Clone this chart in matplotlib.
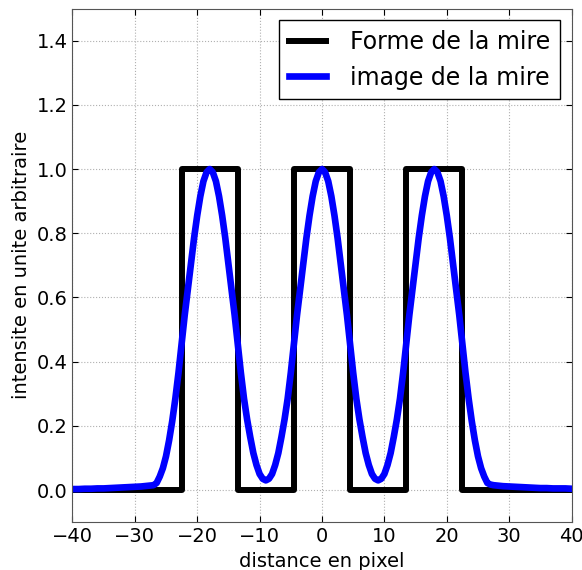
import matplotlib
matplotlib.use('Agg')
import matplotlib.pyplot as plt

# forme de la mire (créneaux)
mire_x = [-40, -22.5, -22.5, -13.5, -13.5, -4.5, -4.5, 4.5, 4.5, 13.5, 13.5, 22.5, 22.5, 40]
mire_y = [0, 0, 1, 1, 0, 0, 1, 1, 0, 0, 1, 1, 0, 0]

# image de la mire, valeurs lues sur la courbe
# pas de 1 dans les queues, pas de 0.5 entre -27.5 et 27.5
image_x = list(range(-40, -27)) + [i * 0.5 for i in range(-55, 56)] + list(range(28, 41))
image_y = [
    # -40 .. -28
    0.003, 0.003, 0.004, 0.004, 0.005, 0.005, 0.006, 0.007, 0.008, 0.009, 0.010, 0.011, 0.013,
    # -27.5 .. -18
    0.014, 0.015, 0.022, 0.042, 0.068, 0.105, 0.155, 0.215, 0.285, 0.365,
    0.455, 0.545, 0.625, 0.705, 0.785, 0.855, 0.915, 0.962, 0.99, 1.0,
    # -17.5 .. -9
    0.99, 0.962, 0.915, 0.855, 0.785, 0.705, 0.625, 0.545, 0.455,
    0.365, 0.285, 0.22, 0.165, 0.115, 0.078, 0.05, 0.035, 0.03,
    # -8.5 .. 0
    0.035, 0.05, 0.078, 0.115, 0.165, 0.22, 0.285, 0.365, 0.455,
    0.545, 0.625, 0.705, 0.785, 0.855, 0.915, 0.962, 0.99, 1.0,
    # 0.5 .. 9
    0.99, 0.962, 0.915, 0.855, 0.785, 0.705, 0.625, 0.545, 0.455,
    0.365, 0.285, 0.22, 0.165, 0.115, 0.078, 0.05, 0.035, 0.03,
    # 9.5 .. 18
    0.035, 0.05, 0.078, 0.115, 0.165, 0.22, 0.285, 0.365, 0.455,
    0.545, 0.625, 0.705, 0.785, 0.855, 0.915, 0.962, 0.99, 1.0,
    # 18.5 .. 27.5
    0.99, 0.962, 0.915, 0.855, 0.785, 0.705, 0.625, 0.545, 0.455, 0.365,
    0.285, 0.215, 0.155, 0.105, 0.068, 0.042, 0.022, 0.017, 0.015,
    # 28 .. 40
    0.014, 0.012, 0.011, 0.010, 0.009, 0.008, 0.007, 0.006, 0.006, 0.005, 0.005, 0.005, 0.004,
]

fig = plt.figure(figsize=(5.82, 5.70), dpi=100)
ax = fig.add_axes([0.1244, 0.084, 0.8577, 0.901])

ax.plot(mire_x, mire_y, color='black', linewidth=4.3, label='Forme de la mire')
ax.plot(image_x, image_y, color='blue', linewidth=4.8, label='image de la mire')

ax.set_xlim(-40, 40)
ax.set_ylim(-0.1, 1.5)
ax.set_yticks([0.0, 0.2, 0.4, 0.6, 0.8, 1.0, 1.2, 1.4])
ax.set_xlabel('distance en pixel', fontsize=14)
ax.set_ylabel('intensite en unite arbitraire', fontsize=14)
ax.tick_params(direction='in', top=True, right=True, labelsize=14, length=4)
ax.grid(True, color='#b0b0b0', linestyle=':', linewidth=0.8)
for s in ax.spines.values():
    s.set_color('#555555')

leg = ax.legend(loc='upper right', fontsize=17, fancybox=False, framealpha=1,
                edgecolor='black', handlelength=1.6, handletextpad=1.0,
                borderaxespad=0.5)
leg.get_frame().set_linewidth(1)

fig.savefig('out.png', dpi=100)
